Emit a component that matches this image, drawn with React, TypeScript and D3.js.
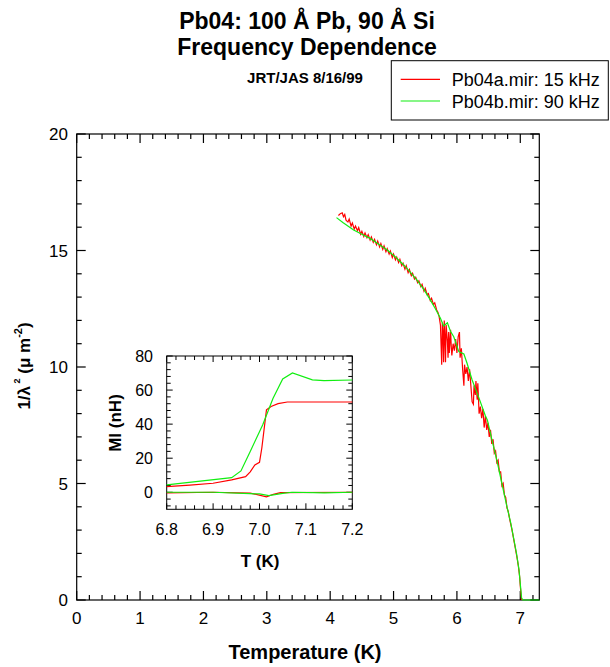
import React, { useEffect, useRef } from "react";
import * as d3 from "d3";

// main plot: 1/lambda^2 vs T
const mainRed: [number, number][] = [
  [4.13, 16.5], [4.16, 16.58], [4.19, 16.62], [4.21, 16.45], [4.23, 16.55], [4.25, 16.3],
  [4.28, 16.22], [4.3, 16.35], [4.33, 16.05], [4.35, 16.18], [4.38, 15.92], [4.4, 16.05],
  [4.43, 15.85], [4.45, 15.98], [4.48, 15.7], [4.5, 15.82], [4.53, 15.6], [4.55, 15.75],
  [4.58, 15.55], [4.6, 15.68], [4.63, 15.45], [4.65, 15.58], [4.68, 15.35], [4.7, 15.48],
  [4.73, 15.25], [4.75, 15.4], [4.78, 15.15], [4.8, 15.3], [4.83, 15.05], [4.85, 15.2],
  [4.88, 14.95], [4.9, 15.08], [4.93, 14.85], [4.95, 14.98], [4.98, 14.7], [5.0, 14.85],
  [5.03, 14.6], [5.05, 14.72], [5.08, 14.48], [5.1, 14.62], [5.13, 14.35], [5.15, 14.45],
  [5.18, 14.2], [5.2, 14.35], [5.23, 14.05], [5.25, 14.18], [5.28, 13.92], [5.3, 14.02],
  [5.33, 13.78], [5.35, 13.85], [5.38, 13.62], [5.4, 13.7], [5.43, 13.45], [5.45, 13.55],
  [5.48, 13.25], [5.5, 13.38], [5.53, 13.1], [5.55, 13.15], [5.58, 12.85], [5.6, 12.95],
  [5.63, 12.68], [5.65, 12.75], [5.68, 12.45], [5.7, 12.35], [5.72, 12.15], [5.74, 11.8],
  [5.76, 10.1], [5.77, 11.9], [5.78, 11.5], [5.79, 10.2], [5.8, 12.0], [5.81, 11.3],
  [5.82, 10.2], [5.83, 11.8], [5.85, 11.1], [5.86, 10.4], [5.87, 11.5], [5.88, 10.6],
  [5.9, 11.6], [5.91, 10.9], [5.92, 10.5], [5.94, 11.0], [5.96, 10.7], [5.98, 11.2],
  [6.0, 10.6], [6.02, 11.3], [6.04, 11.5], [6.05, 10.4], [6.07, 10.8], [6.09, 9.9],
  [6.11, 9.2], [6.12, 10.1], [6.14, 9.7], [6.16, 10.0], [6.18, 9.4], [6.2, 9.9],
  [6.22, 9.2], [6.24, 8.5], [6.26, 8.4], [6.27, 9.2], [6.29, 8.8], [6.3, 9.4],
  [6.32, 8.6], [6.33, 9.3], [6.35, 8.0], [6.37, 8.3], [6.39, 7.8], [6.41, 8.2],
  [6.43, 7.4], [6.45, 7.9], [6.47, 7.3], [6.49, 7.6], [6.51, 7.0], [6.53, 7.3],
  [6.55, 6.7], [6.57, 6.9], [6.59, 6.3], [6.61, 6.4], [6.63, 5.9], [6.65, 6.0],
  [6.67, 5.5], [6.69, 5.5], [6.71, 4.9], [6.73, 5.0], [6.75, 4.5], [6.77, 4.4],
  [6.79, 3.95], [6.81, 3.8], [6.83, 3.5], [6.85, 3.25], [6.87, 3.0], [6.89, 2.7],
  [6.91, 2.4], [6.93, 2.1], [6.95, 1.8], [6.97, 1.45], [6.99, 1.0], [7.0, 0.6],
  [7.01, 0.3], [7.02, 0.0],
];

const mainGreen: [number, number][] = [
  [4.1, 16.41], [4.2, 16.2], [4.37, 15.88], [4.5, 15.7], [4.63, 15.52], [4.76, 15.28],
  [4.9, 15.02], [5.03, 14.72], [5.16, 14.38], [5.27, 14.05], [5.37, 13.73], [5.48, 13.32],
  [5.58, 12.88], [5.66, 12.5], [5.74, 12.09], [5.79, 11.76], [5.85, 11.9], [5.9, 11.52],
  [5.95, 11.3], [6.03, 10.66], [6.11, 10.56], [6.16, 10.16], [6.24, 9.44], [6.34, 8.73],
  [6.45, 7.9], [6.48, 7.73], [6.55, 6.9], [6.63, 6.0], [6.71, 5.0], [6.79, 4.0],
  [6.85, 3.3], [6.9, 2.58], [6.94, 2.0], [6.98, 1.29], [7.0, 0.7], [7.02, 0.1],
  [7.04, 0], [7.3, 0],
];

// inset: MI (nH) vs T
const insetRedUpper: [number, number][] = [
  [6.8, 3.3], [6.85, 4.2], [6.9, 5.3], [6.94, 7.3], [6.97, 9.2], [6.98, 12], [6.99, 16],
  [7.0, 17.6], [7.005, 26], [7.015, 48.4], [7.025, 50.4], [7.04, 52], [7.06, 53], [7.2, 53],
];
const insetRedLower: [number, number][] = [
  [6.8, -0.4], [6.9, 0], [6.98, -0.5], [7.015, -2.7], [7.03, -1.2], [7.045, -0.2], [7.2, 0],
];
const insetGreenUpper: [number, number][] = [
  [6.8, 4.3], [6.94, 8.6], [6.96, 12.5], [6.98, 24], [7.007, 39.6], [7.029, 55], [7.05, 66.5],
  [7.071, 70], [7.114, 66], [7.139, 65.5], [7.2, 65.9],
];
const insetGreenLower: [number, number][] = [
  [6.8, 0], [6.9, 0], [7.0, -1], [7.02, -2], [7.05, -0.6], [7.07, 0], [7.14, -0.3], [7.2, 0],
];

const mainXTicks = [0, 1, 2, 3, 4, 5, 6, 7];
const mainYTicks = [0, 5, 10, 15, 20];
const insetXTicks = [6.8, 6.9, 7.0, 7.1, 7.2];
const insetYTicks = [0, 20, 40, 60, 80];

const RED = "#ff0000";
const GREEN = "#11ee11";
const FONT = "Liberation Sans, Arial, sans-serif";

// box with inward ticks on all four sides
const frame = (g, x, y, xMajor, xMinor, yMajor, yMinor, majLen, minLen, sw) => {
  const [xl, xr] = x.range();
  const [yb, yt] = y.range();
  const tick = (x1, y1, x2, y2) =>
    g.append("line").attr("x1", x1).attr("y1", y1).attr("x2", x2).attr("y2", y2)
      .attr("stroke", "#000").attr("stroke-width", sw);
  xMinor.forEach(v => { tick(x(v), yb, x(v), yb - minLen); tick(x(v), yt, x(v), yt + minLen); });
  xMajor.forEach(v => { tick(x(v), yb, x(v), yb - majLen); tick(x(v), yt, x(v), yt + majLen); });
  yMinor.forEach(v => { tick(xl, y(v), xl + minLen, y(v)); tick(xr, y(v), xr - minLen, y(v)); });
  yMajor.forEach(v => { tick(xl, y(v), xl + majLen, y(v)); tick(xr, y(v), xr - majLen, y(v)); });
  g.append("rect").attr("x", xl).attr("y", yt).attr("width", xr - xl).attr("height", yb - yt)
    .attr("fill", "none").attr("stroke", "#000").attr("stroke-width", sw);
};

const App = () => {
  const svgRef = useRef(null);

  useEffect(() => {
    const width = 610, height = 667;
    const svg = d3.select(svgRef.current);
    svg.selectAll("*").remove();
    svg.attr("width", width).attr("height", height).style("font-family", FONT);

    // titles
    svg.append("text").attr("x", 307).attr("y", 29).attr("text-anchor", "middle")
      .attr("font-size", 23).attr("font-weight", "bold").text("Pb04: 100 Å Pb, 90 Å Si");
    svg.append("text").attr("x", 307).attr("y", 55).attr("text-anchor", "middle")
      .attr("font-size", 23).attr("font-weight", "bold").text("Frequency Dependence");
    svg.append("text").attr("x", 305).attr("y", 83).attr("text-anchor", "middle")
      .attr("font-size", 15).attr("font-weight", "bold").text("JRT/JAS 8/16/99");

    // main plot
    const x = d3.scaleLinear().domain([0, 7.3]).range([76.7, 539.3]);
    const y = d3.scaleLinear().domain([0, 20]).range([600, 134]);
    const g = svg.append("g");

    const xMinor = d3.range(0, 7.3001, 0.2).filter(v => Math.abs(v - Math.round(v)) > 1e-6);
    const yMinor = d3.range(0, 20.001, 1).filter(v => v % 5 !== 0);
    frame(g, x, y, mainXTicks, xMinor, mainYTicks, yMinor, 9, 5, 1.2);

    g.selectAll(".xl").data(mainXTicks).enter().append("text")
      .attr("x", d => x(d)).attr("y", 624).attr("text-anchor", "middle")
      .attr("font-size", 17).text(d => d);
    g.selectAll(".yl").data(mainYTicks).enter().append("text")
      .attr("x", 68).attr("y", d => y(d) + 6).attr("text-anchor", "end")
      .attr("font-size", 17).text(d => d);

    svg.append("text").attr("x", 305).attr("y", 659).attr("text-anchor", "middle")
      .attr("font-size", 20).attr("font-weight", "bold").text("Temperature (K)");

    const yLab = svg.append("text").attr("transform", "translate(30,366) rotate(-90)")
      .attr("text-anchor", "middle").attr("font-size", 17).attr("font-weight", "bold");
    yLab.append("tspan").text("1/λ");
    yLab.append("tspan").attr("font-size", 9).attr("dy", -10).text(" 2");
    yLab.append("tspan").attr("dy", 10).text(" (μ m");
    yLab.append("tspan").attr("font-size", 11).attr("dy", -8).text("-2");
    yLab.append("tspan").attr("dy", 8).text(")");

    const line = d3.line().x(d => x(d[0])).y(d => y(d[1]));
    g.append("path").datum(mainRed).attr("d", line).attr("fill", "none")
      .attr("stroke", RED).attr("stroke-width", 1.2);
    g.append("path").datum(mainGreen).attr("d", line).attr("fill", "none")
      .attr("stroke", GREEN).attr("stroke-width", 1.2);

    // inset
    const ix = d3.scaleLinear().domain([6.8, 7.2]).range([166.7, 352.3]);
    const iy = d3.scaleLinear().domain([-10, 80]).range([509.3, 356]);
    const ig = svg.append("g");
    ig.append("rect").attr("x", 166.7).attr("y", 356).attr("width", 185.6).attr("height", 153.3)
      .attr("fill", "#fff");
    const ixMinor = d3.range(6.8, 7.2001, 0.02).filter(v => Math.abs(v * 10 - Math.round(v * 10)) > 1e-6);
    const iyMinor = d3.range(-8, 80.001, 4).filter(v => v % 20 !== 0);
    frame(ig, ix, iy, insetXTicks, ixMinor, insetYTicks, iyMinor, 6, 4, 1);

    const iline = d3.line().x(d => ix(d[0])).y(d => iy(d[1]));
    [insetRedUpper, insetRedLower].forEach(s =>
      ig.append("path").datum(s).attr("d", iline).attr("fill", "none")
        .attr("stroke", RED).attr("stroke-width", 1.2));
    [insetGreenUpper, insetGreenLower].forEach(s =>
      ig.append("path").datum(s).attr("d", iline).attr("fill", "none")
        .attr("stroke", GREEN).attr("stroke-width", 1.2));

    ig.selectAll(".ixl").data(insetXTicks).enter().append("text")
      .attr("x", d => ix(d)).attr("y", 535).attr("text-anchor", "middle")
      .attr("font-size", 16).text(d => d3.format(".1f")(d));
    ig.selectAll(".iyl").data(insetYTicks).enter().append("text")
      .attr("x", 153).attr("y", d => iy(d) + 5.5).attr("text-anchor", "end")
      .attr("font-size", 16).text(d => d);
    ig.append("text").attr("x", 260).attr("y", 567).attr("text-anchor", "middle")
      .attr("font-size", 17).attr("font-weight", "bold").text("T (K)");
    ig.append("text").attr("transform", "translate(121,423) rotate(-90)")
      .attr("text-anchor", "middle").attr("font-size", 17).attr("font-weight", "bold")
      .text("MI (nH)");

    // legend
    const lg = svg.append("g");
    lg.append("rect").attr("x", 391.3).attr("y", 60.7).attr("width", 217).attr("height", 59.3)
      .attr("fill", "#fff").attr("stroke", "#000").attr("stroke-width", 1);
    const legend = [
      { label: "Pb04a.mir: 15 kHz", color: RED },
      { label: "Pb04b.mir: 90 kHz", color: GREEN },
    ];
    legend.forEach((d, i) => {
      const ly = 79.3 + i * 21.7;
      lg.append("line").attr("x1", 400.7).attr("x2", 440).attr("y1", ly).attr("y2", ly)
        .attr("stroke", d.color).attr("stroke-width", 1.2);
      lg.append("text").attr("x", 451.7).attr("y", ly + 6.5).attr("font-size", 18).text(d.label);
    });
  }, []);

  return <svg ref={svgRef} style={{ position: "absolute", left: 0, top: 0 }}></svg>;
};

export default App;
